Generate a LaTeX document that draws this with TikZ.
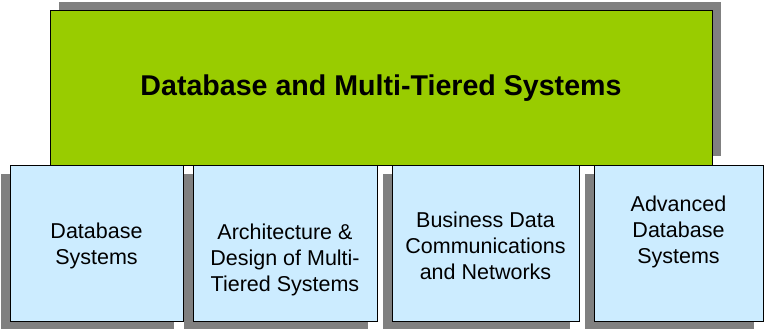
\documentclass[tikz,border=0pt]{standalone}
\usepackage{fontspec}
\setmainfont{Liberation Sans}
\definecolor{topgreen}{HTML}{99CC00}
\definecolor{subblue}{HTML}{CCECFF}
\definecolor{shadowgray}{HTML}{808080}
\tikzset{
  topbox/.style={draw=black, line width=1pt, fill=topgreen, inner sep=0pt},
  subbox/.style={draw=black, line width=1pt, fill=subblue, inner sep=0pt, minimum height=156},
  subtext/.style={align=center, font=\fontsize{21.5}{26}\selectfont},
}

\begin{document}
\begin{tikzpicture}[x=1pt, y=-1pt]
\useasboundingbox (0,0) rectangle (764,329);
% top box
\fill[shadowgray] (59,2) rectangle (721,156);
\node[topbox, minimum width=662, minimum height=154] (top) at (381,88) {};
\node[font=\fontsize{28.6}{34}\selectfont\bfseries] (toptxt) at (381,88) {Database and Multi-Tiered Systems};
% shadows of the lower boxes
\fill[shadowgray] (1,174) rectangle (174,330);
\fill[shadowgray] (184,174) rectangle (368,330);
\fill[shadowgray] (383,174) rectangle (570,330);
\fill[shadowgray] (585,174) rectangle (754,330);
% lower boxes
\node[subbox, minimum width=173] (dbs) at (96.5,243.5) {};
\node[subbox, minimum width=184] (arch) at (285,243.5) {};
\node[subbox, minimum width=187] (bdc) at (485.5,243.5) {};
\node[subbox, minimum width=169] (adv) at (678.5,243.5) {};
\node[subtext] (dbstxt) at (96.5,246) {Database\\Systems};
\node[subtext] (archtxt) at (285,260) {Architecture \&\\Design of Multi-\\Tiered Systems};
\node[subtext] (bdctxt) at (485.5,246) {Business Data\\Communications\\and Networks};
\node[subtext] (advtxt) at (678.5,232) {Advanced\\Database\\Systems};
\end{tikzpicture}
\end{document}
